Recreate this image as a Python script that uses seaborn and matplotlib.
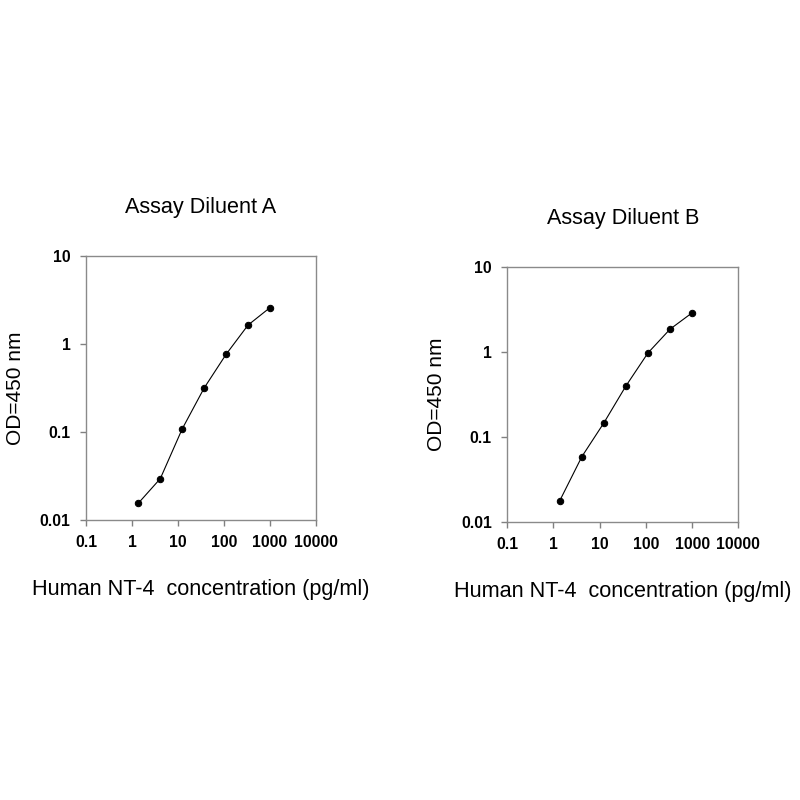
import seaborn as sns
import pandas as pd
from matplotlib import pyplot as plt

# standard concentrations (pg/ml)
conc = [1.37, 4.12, 12.3, 37.0, 111.0, 333.0, 1000.0]
od_a = [0.0155, 0.0295, 0.108, 0.316, 0.763, 1.64, 2.59]
od_b = [0.0178, 0.0587, 0.146, 0.398, 0.973, 1.85, 2.88]

titles = ["Assay Diluent A", "Assay Diluent B"]
x_ticks = [0.1, 1, 10, 100, 1000, 10000]
x_labels = ["0.1", "1", "10", "100", "1000", "10000"]
y_ticks = [0.01, 0.1, 1, 10]
y_labels = ["0.01", "0.1", "1", "10"]
xlabel = "Human NT-4  concentration (pg/ml)"
ylabel = "OD=450 nm"

sns.set_style("ticks")
plt.rcParams['font.family'] = ['Liberation Sans', 'DejaVu Sans']
plt.rcParams['text.color'] = 'black'
plt.rcParams['axes.labelcolor'] = 'black'
plt.rcParams['xtick.labelcolor'] = 'black'
plt.rcParams['ytick.labelcolor'] = 'black'

fig = plt.figure(figsize=(8, 8), dpi=100)
ax_a = fig.add_axes([0.1075, 0.35, 0.2875, 0.33])
ax_b = fig.add_axes([0.634, 0.3475, 0.289, 0.319])

for ax, od, title in zip([ax_a, ax_b], [od_a, od_b], titles):
    df = pd.DataFrame({"conc": conc, "od": od})
    sns.lineplot(x="conc", y="od", data=df, ax=ax, color="black", linewidth=0.8,
                 marker="o", markersize=4.6, markeredgecolor="black")
    ax.set_xscale("log")
    ax.set_yscale("log")
    ax.set_xlim(0.1, 10000)
    ax.set_ylim(0.01, 10)
    ax.set_xticks(x_ticks)
    ax.set_xticklabels(x_labels, fontsize=11.3, fontweight="bold")
    ax.set_yticks(y_ticks)
    ax.set_yticklabels(y_labels, fontsize=11.3, fontweight="bold")
    ax.minorticks_off()
    ax.tick_params(length=4, width=1, color="#808080", pad=7)
    for side in ["left", "bottom", "right", "top"]:
        ax.spines[side].set_visible(True)
        ax.spines[side].set_color("#8a8a8a")
        ax.spines[side].set_linewidth(1)
    ax.set_title(title, fontsize=15.6, pad=31)
    ax.set_xlabel(xlabel, fontsize=15.6, labelpad=21)
    ax.set_ylabel(ylabel, fontsize=15, labelpad=11)

fig.savefig("out.png", dpi=100, facecolor="white")
